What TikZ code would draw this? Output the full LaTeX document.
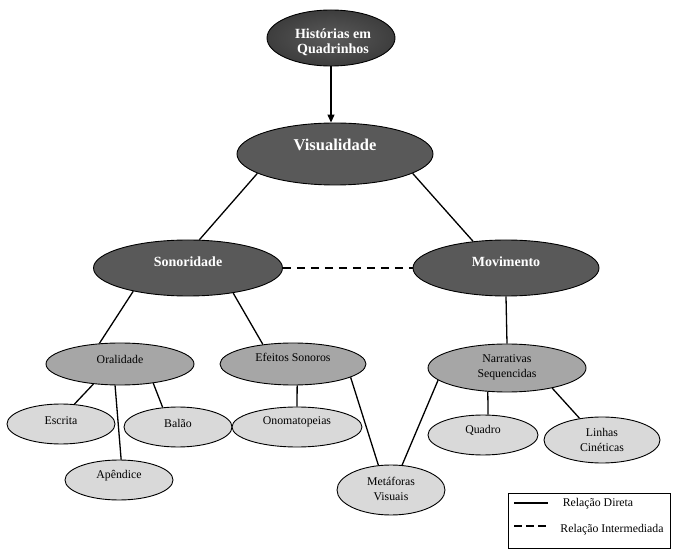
\documentclass[tikz,border=0pt]{standalone}
\usepackage{fontspec}
\setmainfont{Liberation Serif}
\usetikzlibrary{shapes.geometric,arrows.meta}
\definecolor{dark}{HTML}{595959}
\definecolor{mid}{HTML}{A6A6A6}
\definecolor{light}{HTML}{D9D9D9}
\definecolor{hc}{HTML}{5A5A5A}
\definecolor{hm}{HTML}{3A3A3A}
\definecolor{he}{HTML}{161616}
\pgfdeclareradialshading{histsh}{\pgfpoint{0bp}{0bp}}{color(0bp)=(hc); color(28bp)=(hm); color(50bp)=(he); color(72bp)=(black)}
\begin{document}
\begin{tikzpicture}[x=1pt,y=-1pt,
  ell/.style={ellipse,draw=black,line width=0.9pt,inner sep=0pt},
  lvl0/.style={ell,shading=histsh},
  lvl1/.style={ell,fill=dark},
  lvl2/.style={ell,fill=mid},
  lvl3/.style={ell,fill=light},
  wtxt/.style={text=white,font=\bfseries\fontsize{14}{16}\selectfont,align=center,inner sep=0pt},
  btxt/.style={text=black,font=\fontsize{11.8}{15}\selectfont,align=center,inner sep=0pt},
  conn/.style={line width=1.3pt},
  dconn/.style={line width=1.3pt,dash pattern=on 8pt off 6pt}]
\useasboundingbox (0,0) rectangle (689,556);
% ellipses
\node[lvl0,minimum width=128pt,minimum height=56pt] (hist) at (331,38) {};
\node[lvl1,minimum width=196pt,minimum height=62pt] (vis) at (335,154) {};
\node[lvl1,minimum width=189pt,minimum height=56pt] (son) at (188,268) {};
\node[lvl1,minimum width=186pt,minimum height=56pt] (mov) at (506,268) {};
\node[lvl2,minimum width=148pt,minimum height=42pt] (oral) at (120,364) {};
\node[lvl2,minimum width=146pt,minimum height=42pt] (efe) at (293,364) {};
\node[lvl2,minimum width=158pt,minimum height=48pt] (narr) at (507,368) {};
\node[lvl3,minimum width=108pt,minimum height=40pt] (escr) at (61,424) {};
\node[lvl3,minimum width=108pt,minimum height=40pt] (bal) at (178,427) {};
\node[lvl3,minimum width=130pt,minimum height=40pt] (onom) at (297,427) {};
\node[lvl3,minimum width=108pt,minimum height=40pt] (apen) at (119,480) {};
\node[lvl3,minimum width=110pt,minimum height=40pt] (quad) at (483,435) {};
\node[lvl3,minimum width=116pt,minimum height=46pt] (lin) at (602,440) {};
\node[lvl3,minimum width=108pt,minimum height=50pt] (meta) at (391,490) {};
% texts
\node[wtxt] (thist) at (333,42) {Histórias em\\[-1pt]Quadrinhos};
\node[wtxt,font=\bfseries\fontsize{16.5}{18}\selectfont] (tvis) at (335,145) {Visualidade};
\node[wtxt] (tson) at (188,262) {Sonoridade};
\node[wtxt] (tmov) at (506,262) {Movimento};
\node[btxt] (toral) at (120,359) {Oralidade};
\node[btxt] (tefe) at (293,357) {Efeitos Sonoros};
\node[btxt] (tnarr) at (507,367) {Narrativas\\Sequencidas};
\node[btxt] (tescr) at (61,421) {Escrita};
\node[btxt] (tbal) at (178,423) {Balão};
\node[btxt] (tonom) at (297,422) {Onomatopeias};
\node[btxt] (tapen) at (119,476) {Apêndice};
\node[btxt] (tquad) at (483,430) {Quadro};
\node[btxt] (tlin) at (602,439.5) {Linhas\\Cinéticas};
\node[btxt] (tmeta) at (391,489) {Metáforas\\Visuais};
% connectors
\draw[conn,-{Triangle[length=8pt,width=7pt]}] (hist.south) -- (hist.south |- vis.north);
\draw[conn] (vis.194) -- (son.68);
\draw[conn] (vis.346) -- (mov.141);
\draw[dconn] (son.east) -- (mov.west);
\draw[conn] (son.203) -- (oral.135);
\draw[conn] (son.331) -- (efe.147);
\draw[conn] (mov.south) -- (narr.north);
\draw[conn] (oral.217) -- (escr.56);
\draw[conn] (oral.257) -- (apen.84);
\draw[conn] (oral.330) -- (bal.128);
\draw[conn] (efe.281) -- (onom.north);
\draw[conn] (efe.347) -- (meta.117);
\draw[conn] (narr.190) -- (meta.66);
\draw[conn] (narr.231) -- (quad.76);
\draw[conn] (narr.336) -- (lin.136);
% legend
\node[draw=black,line width=0.9pt,minimum width=162pt,minimum height=55pt,inner sep=0pt] (leg) at (589,520.5) {};
\coordinate (l1a) at (514,503);
\coordinate (l1b) at (548,503);
\coordinate (l2a) at (514,526);
\coordinate (l2b) at (548,526);
\draw[conn] (l1a) -- (l1b);
\draw[line width=1.3pt,dash pattern=on 8pt off 4pt] (l2a) -- (l2b);
\node[btxt] (tl1) at (598,504) {Relação Direta};
\node[btxt] (tl2) at (612,530) {Relação Intermediada};
\end{tikzpicture}
\end{document}
